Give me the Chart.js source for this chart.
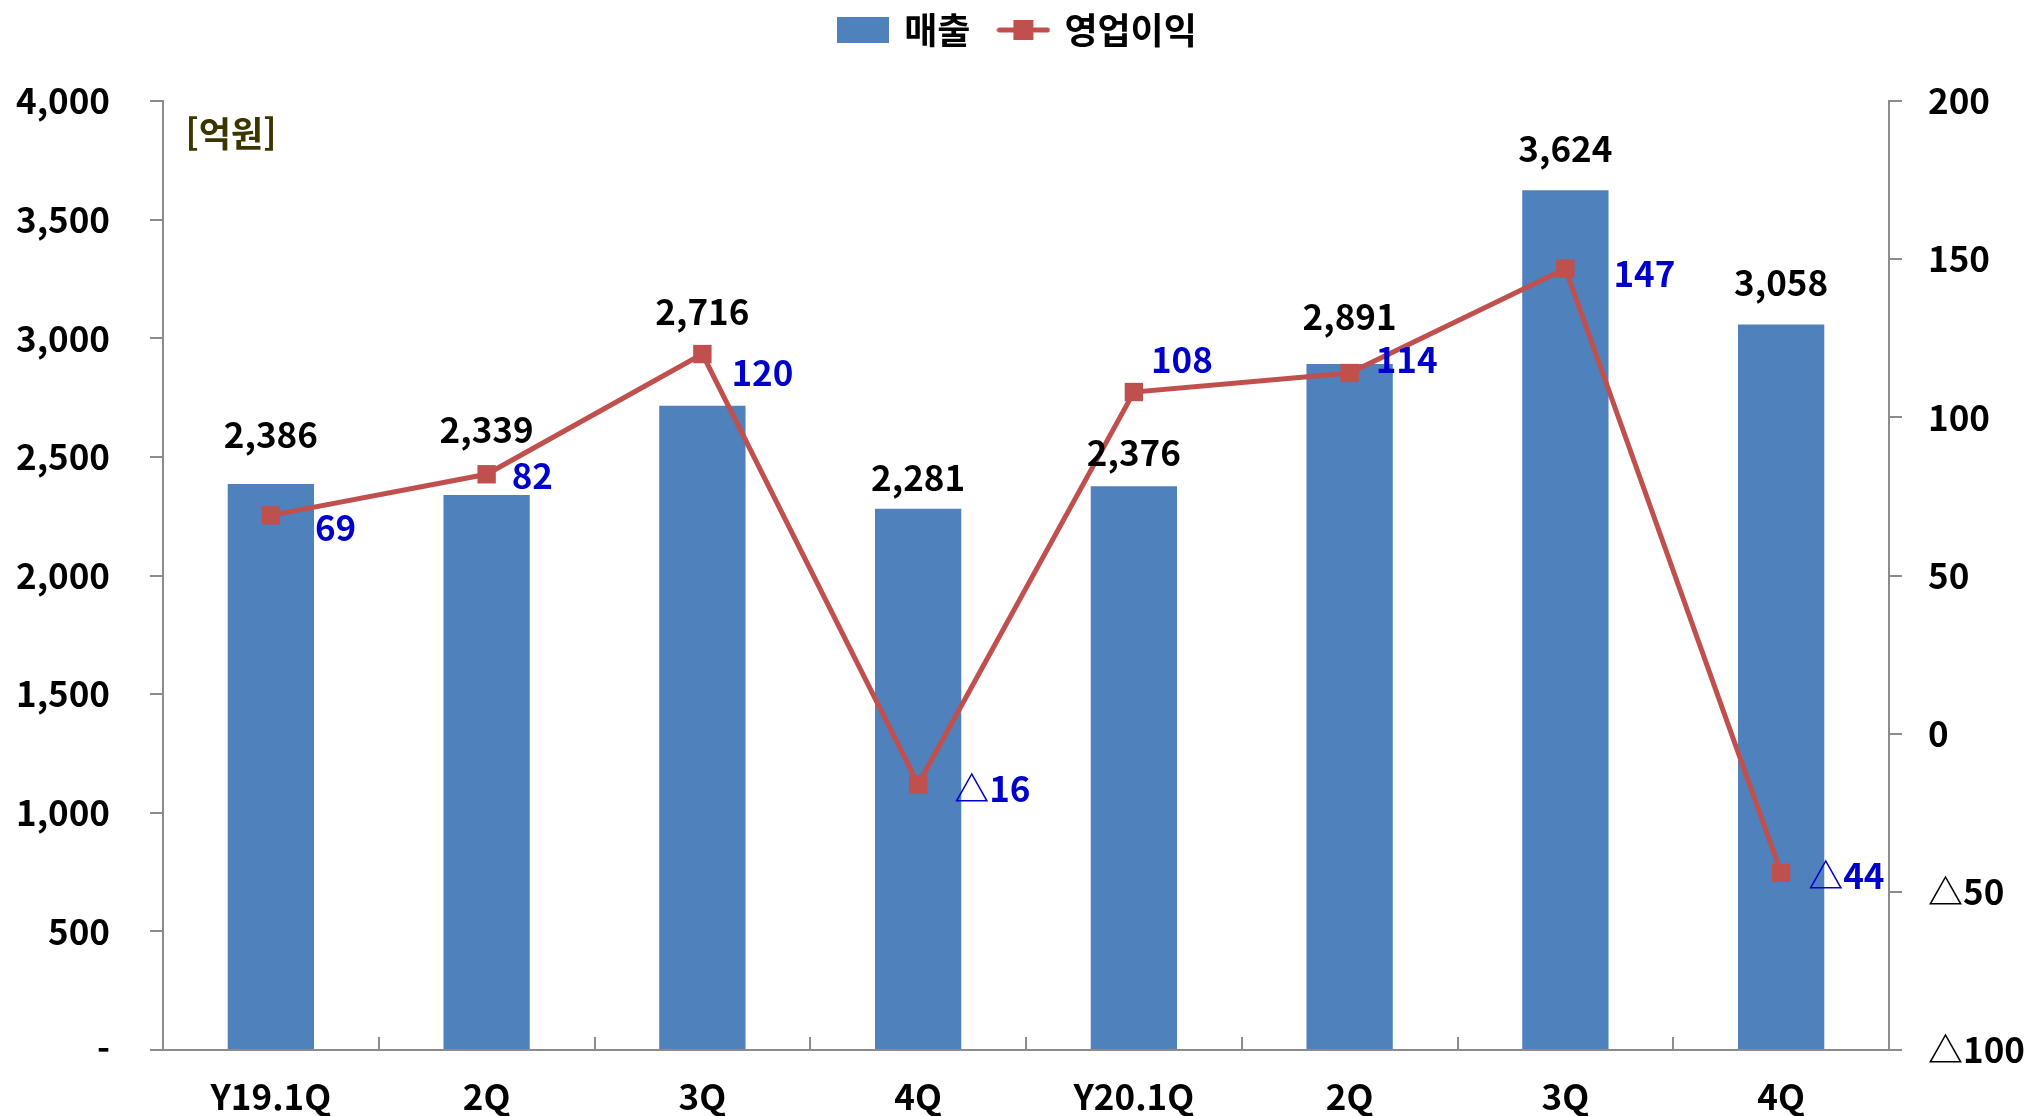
<!DOCTYPE html>
<html lang="ko">
<head>
<meta charset="UTF-8">
<title>매출 / 영업이익</title>
<script src="https://cdn.jsdelivr.net/npm/chart.js@4"></script>
<style>
  html, body { margin: 0; padding: 0; background: #fff; }
  #wrap { width: 2037px; height: 1116px; }
</style>
</head>
<body>
<div id="wrap"><canvas id="salesChart"></canvas></div>
<script>
// data
const quarters = ['Y19.1Q', '2Q', '3Q', '4Q', 'Y20.1Q', '2Q', '3Q', '4Q'];
const sales = [2386, 2339, 2716, 2281, 2376, 2891, 3624, 3058];      // 매출 (억원)
const opProfit = [69, 82, 120, -16, 108, 114, 147, -44];            // 영업이익 (억원)

const FONT = '"Noto Sans CJK KR", "Noto Sans", sans-serif';
const BAR = '#4F81BD';
const LINE = '#C0504D';
const AXIS = '#8c8c8c';

const fmt = v => v.toLocaleString('en-US');
const tri = v => (v < 0 ? '\u25B3' + Math.abs(v) : String(v));

// label nudges (pixels), hand placed like the original
const barLabelLift = [49, 65, 94, 31, 34, 47, 42, 42];
const lineLabelNudge = [[44, 12], [25, 1], [29, 19], [36, 4], [17, -32], [26, -13], [48, 5], [27, 3]];

function swatch(w, h, draw) {
  const c = document.createElement('canvas');
  c.width = w; c.height = h;
  draw(c.getContext('2d'), w, h);
  return c;
}
const barSwatch = swatch(52, 26, (g, w, h) => { g.fillStyle = BAR; g.fillRect(0, 0, w, h); });
const lineSwatch = swatch(54, 26, (g, w, h) => {
  g.strokeStyle = LINE; g.lineWidth = 5; g.lineCap = 'round';
  g.beginPath(); g.moveTo(3, h / 2); g.lineTo(w - 3, h / 2); g.stroke();
  g.fillStyle = LINE; g.fillRect(w / 2 - 10, h / 2 - 10, 20, 20);
});

const extras = {
  id: 'extras',
  beforeLayout(chart) {
    const lg = chart.legend;
    if (lg && !lg._fixed) {
      const fit = lg.fit;
      lg.fit = function () { fit.call(this); this.height = 119; };
      lg._fixed = true;
    }
  },
  afterDatasetsDraw(chart) {
    const ctx = chart.ctx;
    const area = chart.chartArea;
    ctx.save();
    ctx.textBaseline = 'middle';

    // bar values
    ctx.font = 'bold 35px ' + FONT;
    ctx.textAlign = 'center';
    ctx.fillStyle = '#000';
    chart.getDatasetMeta(0).data.forEach((bar, i) => {
      ctx.fillText(fmt(sales[i]), bar.x, bar.y - barLabelLift[i]);
    });

    // operating profit values
    ctx.textAlign = 'left';
    ctx.fillStyle = '#0000CC';
    chart.getDatasetMeta(1).data.forEach((pt, i) => {
      const [dx, dy] = lineLabelNudge[i];
      ctx.fillText(tri(opProfit[i]), pt.x + dx, pt.y + dy);
    });

    // unit
    ctx.textAlign = 'center';
    ctx.fillStyle = '#3b3600';
    ctx.font = 'bold 35px ' + FONT;
    ctx.fillText('[억원]', area.left + 68, area.top + 33);

    // category separators on the x axis, pointing up
    const xs = chart.scales.x;
    ctx.strokeStyle = AXIS;
    ctx.lineWidth = 2;
    ctx.beginPath();
    for (let i = 1; i < quarters.length; i++) {
      const px = Math.round((xs.getPixelForTick(i - 1) + xs.getPixelForTick(i)) / 2);
      ctx.moveTo(px, area.bottom);
      ctx.lineTo(px, area.bottom - 13);
    }
    ctx.stroke();
    ctx.restore();
  }
};

const tickFont = { family: FONT, size: 35, weight: 'bold' };

new Chart(document.getElementById('salesChart'), {
  data: {
    labels: quarters,
    datasets: [
      {
        type: 'bar',
        label: '매출',
        data: sales,
        backgroundColor: BAR,
        barPercentage: 0.4,
        categoryPercentage: 1,
        yAxisID: 'y',
        order: 2
      },
      {
        type: 'line',
        label: '영업이익',
        data: opProfit,
        borderColor: LINE,
        backgroundColor: LINE,
        borderWidth: 5,
        pointStyle: 'rect',
        pointRadius: 13,
        pointHoverRadius: 13,
        pointBorderWidth: 0,
        tension: 0,
        yAxisID: 'y2',
        order: 1
      }
    ]
  },
  options: {
    responsive: true,
    maintainAspectRatio: false,
    animation: false,
    layout: { padding: { top: -18 } },
    plugins: {
      tooltip: { enabled: false },
      legend: {
        position: 'top',
        labels: {
          usePointStyle: true,
          pointStyleWidth: 46,
          padding: 30,
          color: '#000',
          font: { family: FONT, size: 36, weight: 'bold' },
          sort: (a, b) => a.datasetIndex - b.datasetIndex,
          generateLabels(chart) {
            const items = Chart.defaults.plugins.legend.labels.generateLabels(chart);
            items.forEach(it => { it.pointStyle = it.datasetIndex === 0 ? barSwatch : lineSwatch; });
            return items;
          }
        }
      }
    },
    scales: {
      x: {
        grid: { display: false },
        border: { display: true, color: AXIS, width: 2 },
        ticks: { padding: 18, color: '#000', font: tickFont, maxRotation: 0 },
        afterFit(s) { s.height = 66; }
      },
      y: {
        position: 'left',
        min: 0,
        max: 4000,
        ticks: { stepSize: 500, padding: 40, color: '#000', font: tickFont,
                 callback: v => (v === 0 ? '-' : fmt(v)) },
        grid: { drawOnChartArea: false, tickLength: 13, color: AXIS, lineWidth: 2 },
        border: { color: AXIS, width: 2 },
        afterFit(s) { s.width = 163; }
      },
      y2: {
        position: 'right',
        min: -100,
        max: 200,
        ticks: { stepSize: 50, padding: 26, color: '#000', font: tickFont, callback: tri },
        grid: { drawOnChartArea: false, tickLength: 13, color: AXIS, lineWidth: 2 },
        border: { color: AXIS, width: 2 },
        afterFit(s) { s.width = 148; }
      }
    }
  },
  plugins: [extras]
});
</script>
</body>
</html>
